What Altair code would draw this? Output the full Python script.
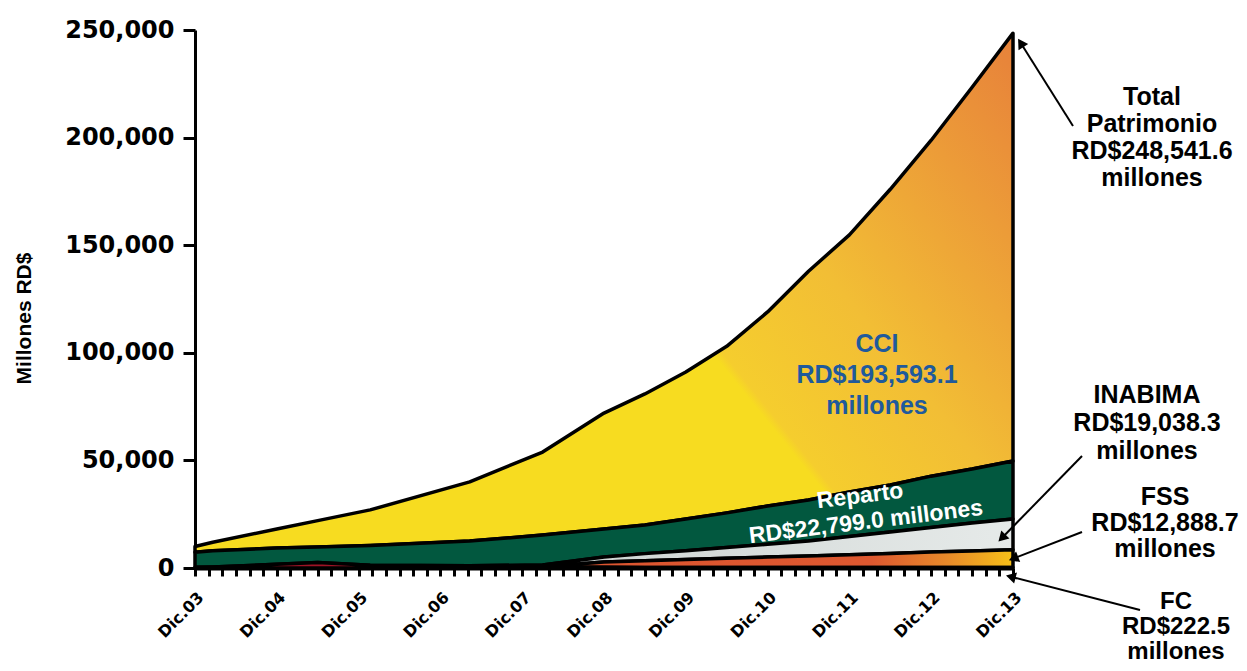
import math
import altair as alt
import pandas as pd

# ---------------- data ----------------
MONTHS = [0, 2.6, 12, 18, 25.7, 40.3, 51, 60, 66, 72, 78, 84, 90, 96, 102, 108, 114, 120]
FC = [300, 500, 1700, 2500, 1300, 1000, 600, 300, 280, 270, 260, 250, 245, 240, 235, 230, 225, 222.5]
FSS = [0, 0, 0, 0, 0, 0, 0, 2500, 3100, 3700, 4300, 4850, 5350, 5950, 6550, 7150, 7650, 8300]
INABIMA = [0, 0, 0, 0, 0, 0, 800, 2300, 3300, 4100, 4950, 5900, 6900, 8400, 9900, 11400, 13000, 14300]
REPARTO = [7000, 7500, 7600, 7300, 9100, 11500, 13900, 13000, 13300, 14700, 16100, 17800, 19100, 20700, 21900, 23900, 25100, 26900]
CCI = [2700, 4000, 8800, 12200, 16600, 27500, 38600, 53900, 60900, 68300, 77400, 90200, 106300, 119500, 137400, 156100, 177400, 198819.1]

X_LABELS = ["Dic.03", "Dic.04", "Dic.05", "Dic.06", "Dic.07", "Dic.08",
            "Dic.09", "Dic.10", "Dic.11", "Dic.12", "Dic.13"]
Y_TICKS = [0, 50000, 100000, 150000, 200000, 250000]

SERIES = [("FC", FC), ("FSS", FSS), ("INABIMA", INABIMA), ("Reparto", REPARTO), ("CCI", CCI)]

# ---------------- stacked table ----------------
rows = []
base_vals = [0.0] * len(MONTHS)
for name, vals in SERIES:
    first = next((i for i, v in enumerate(vals) if v > 0), 0)
    start = max(first - 1, 0)
    for i, m in enumerate(MONTHS):
        lo = base_vals[i]
        hi = lo + vals[i]
        if i >= start:
            rows.append({"serie": name, "mes": m, "lo": lo, "hi": hi})
        base_vals[i] = hi
df = pd.DataFrame(rows)

# ---------------- layout ----------------
W, H = 818, 538
OX, OY = 195, 30  # page position of plot origin

def px(X):
    return X - OX

def py(Y):
    return Y - OY

expr = "''"
for k in range(len(X_LABELS) - 1, -1, -1):
    expr = f"datum.value == {12 * k} ? '{X_LABELS[k]}' : ({expr})"

xaxis = alt.Axis(values=list(range(0, 121, 2)), labelExpr=expr, labelAngle=-45,
                 labelFont="DejaVu Sans", labelFontWeight="bold", labelFontSize=16,
                 labelColor="black", labelPadding=13, labelOverlap=False,
                 tickSize=8, tickWidth=3, tickColor="black",
                 domainColor="black", domainWidth=4, grid=False, title=None)
yaxis = alt.Axis(values=Y_TICKS, format=",.0f", labelFont="DejaVu Sans", labelFontWeight="bold",
                 labelFontSize=24, labelColor="black", labelPadding=9,
                 tickSize=12, tickWidth=3, tickColor="black",
                 domainColor="black", domainWidth=3, grid=False,
                 title="Millones RD$", titleFont="Liberation Sans", titleFontSize=21,
                 titleFontWeight="bold", titleColor="black", titleAngle=270,
                 titleX=-171, titleY=288, titleAlign="center", titleBaseline="middle")

xs = alt.Scale(domain=[0, 120], nice=False, zero=False)
ys = alt.Scale(domain=[0, 250000], nice=False)

def grad(stops, x1=0, y1=0, x2=1, y2=0):
    return alt.LinearGradient(gradient="linear",
                              stops=[alt.GradientStop(offset=o, color=c) for o, c in stops],
                              x1=x1, y1=y1, x2=x2, y2=y2)

FILLS = {
    "CCI": grad([(0, "#F7DC20"), (0.02, "#F5CD2E"), (0.32, "#F2BE35"), (0.95, "#E8853A"), (1, "#E7823A")],
                x1=0.617, y1=0.587, x2=1.159, y2=0.309),
    "Reparto": "#02583F",
    "INABIMA": grad([(0, "#C9D0CE"), (1, "#E6EAE9")]),
    "FSS": grad([(0, "#DC5530"), (0.70, "#DD5830"), (0.86, "#E88A2A"), (1, "#F6C018")]),
    "FC": "#9E1325",
}

base = alt.Chart(df)
layers = []
for name in ["CCI", "Reparto", "INABIMA", "FSS", "FC"]:
    layers.append(
        base.transform_filter(alt.datum.serie == name)
        .mark_area(fill=FILLS[name], stroke="black", strokeWidth=3.5, strokeJoin="round",
                   interpolate="linear")
        .encode(x=alt.X("mes:Q", scale=xs, axis=xaxis),
                y=alt.Y("lo:Q", scale=ys, axis=yaxis),
                y2="hi:Q")
    )

one = pd.DataFrame({"k": [0]})

def label(text, X, Y, color="black", size=25, lh=27, angle=0):
    # Y is the centre of the first line
    kw = dict(text=text, lineBreak="\n", lineHeight=lh, align="center", baseline="middle",
              font="Liberation Sans", fontWeight="bold", fontSize=size, color=color)
    if angle:
        kw["angle"] = angle
    return alt.Chart(one).mark_text(**kw).encode(x=alt.value(px(X)), y=alt.value(py(Y)))

def arrow(start, tip):
    dx, dy = tip[0] - start[0], tip[1] - start[1]
    L = math.hypot(dx, dy)
    ux, uy = dx / L, dy / L
    ang = math.degrees(math.atan2(ux, -uy)) % 360
    cx, cy = tip[0] - 7 * ux, tip[1] - 7 * uy
    line = alt.Chart(one).mark_rule(color="black", strokeWidth=2).encode(
        x=alt.value(px(start[0])), y=alt.value(py(start[1])),
        x2=alt.value(px(cx)), y2=alt.value(py(cy)))
    head = alt.Chart(one).mark_point(shape="triangle-up", filled=True, size=130, angle=ang,
                                     color="black", opacity=1).encode(
        x=alt.value(px(cx)), y=alt.value(py(cy)))
    return [line, head]

layers += arrow((1073, 126), (1017, 37))
layers += arrow((1082, 456), (997, 543))
layers += arrow((1082, 532), (1007, 561))
layers += arrow((1140, 610), (1004, 575))

layers.append(label("CCI\nRD$193,593.1\nmillones", 877, 344, color="#1F5A9C", lh=31))
layers.append(label("Reparto", 860, 496, color="white", size=23, angle=353))
layers.append(label("RD$22,799.0 millones", 866, 522, color="white", size=23, angle=353))
layers.append(label("Total\nPatrimonio\nRD$248,541.6\nmillones", 1152, 97))
layers.append(label("INABIMA\nRD$19,038.3\nmillones", 1147, 395, lh=28))
layers.append(label("FSS\nRD$12,888.7\nmillones", 1165, 497, lh=26))
layers.append(label("FC\nRD$222.5\nmillones", 1176, 602, size=24, lh=25))

chart = (
    alt.layer(*layers)
    .properties(width=W, height=H,
                padding={"left": OX - 8, "top": OY - 8, "right": 226, "bottom": 97},
                autosize=alt.AutoSizeParams(type="none"))
    .configure_view(stroke=None)
)

chart.save("out.html", embed_options={"renderer": "svg", "actions": False})
